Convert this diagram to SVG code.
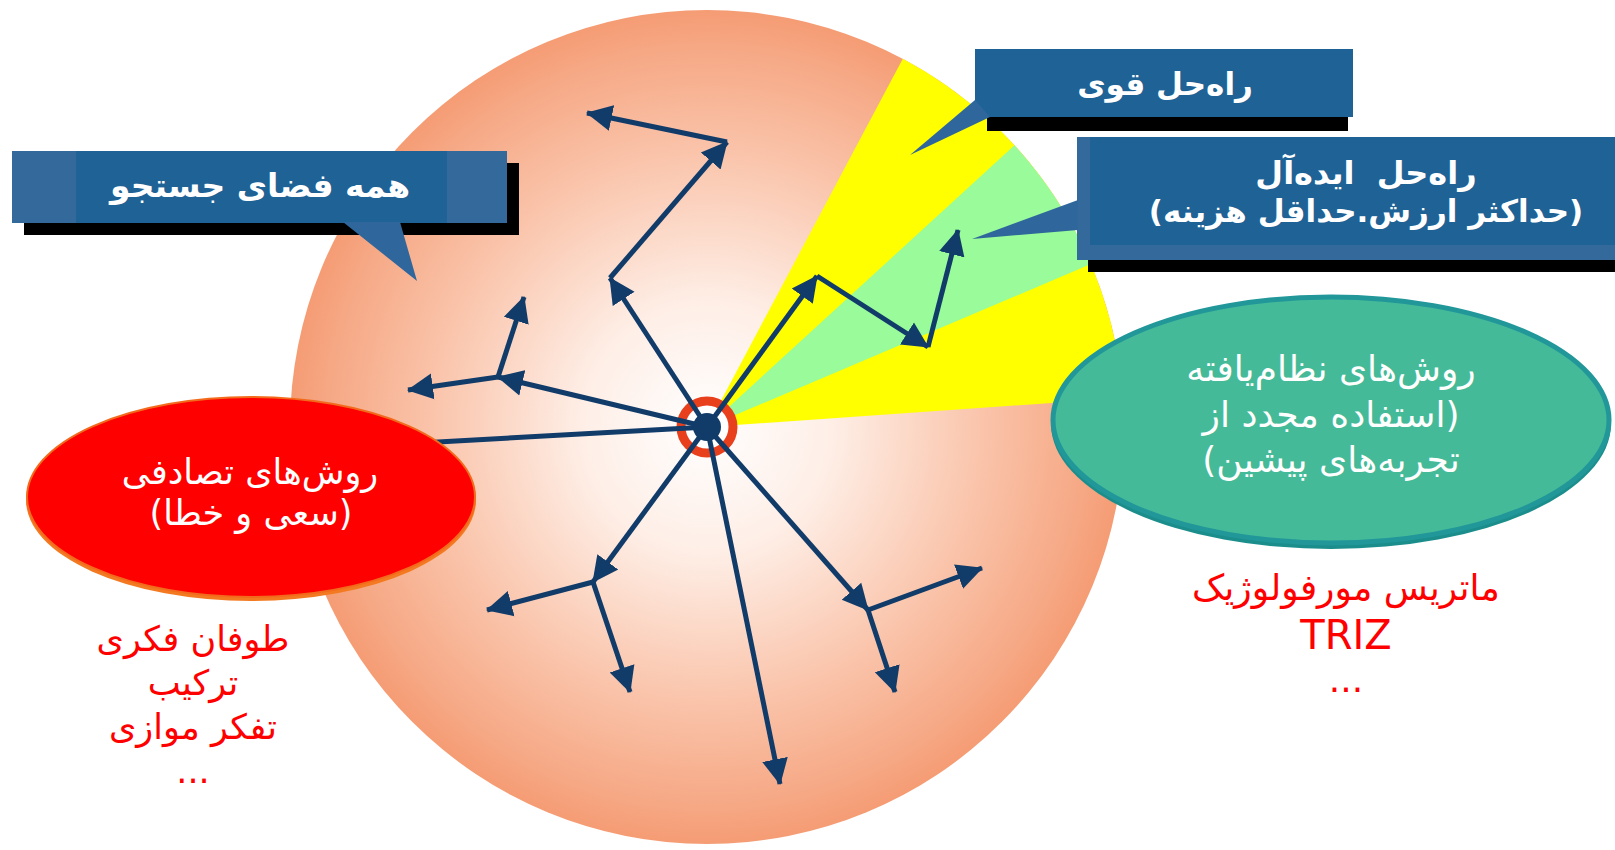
<svg xmlns="http://www.w3.org/2000/svg" width="1615" height="850" viewBox="0 0 1615 850">
  <defs>
    <radialGradient id="bgGrad" cx="707" cy="427" r="417" gradientUnits="userSpaceOnUse">
      <stop offset="0" stop-color="#FFFFFF"/>
      <stop offset="0.3" stop-color="#FEEEE6"/>
      <stop offset="0.65" stop-color="#FAC5AC"/>
      <stop offset="0.9" stop-color="#F6A986"/>
      <stop offset="1" stop-color="#F59C74"/>
    </radialGradient>
    <marker id="ah" markerUnits="userSpaceOnUse" markerWidth="26" markerHeight="28" refX="25" refY="14" orient="auto" viewBox="0 0 26 28">
      <path d="M0,1 L26,14 L0,27 Z" fill="#113B69"/>
    </marker>
    <style>
      .arr { stroke: #113B69; stroke-width: 5; fill: none; marker-end: url(#ah); }
      .ln { stroke: #113B69; stroke-width: 5; fill: none; }
      .box { fill: #1F6296; }
      .boxlite { fill: #34699C; }
      .shadow { fill: #000000; }
      .tail { fill: #2F679C; }
      .wt { font-family: "DejaVu Sans", sans-serif; fill: #FFFFFF; text-anchor: middle; }
      .bt { font-family: "DejaVu Sans", sans-serif; fill: #FFFFFF; text-anchor: middle; font-weight: bold; }
      .rt { font-family: "DejaVu Sans", sans-serif; fill: #FF0000; text-anchor: middle; }
    </style>
  </defs>

  <rect width="1615" height="850" fill="#FFFFFF"/>

  <g id="search-space">
    <circle cx="707" cy="427" r="417" fill="url(#bgGrad)"/>
    <path d="M707,427 L902.8,58.8 A417,417 0 0 1 1123,397.9 Z" fill="#FFFF00"/>
    <path d="M707,427 L1014.5,145.3 A417,417 0 0 1 1090.9,264.1 Z" fill="#99FB99"/>
  </g>

  <g id="start-point-ring">
    <circle cx="707" cy="427" r="26" fill="#FFFFFF" stroke="#E8401C" stroke-width="9"/>
  </g>

  <g id="connectors">
    <line class="arr" x1="707" y1="427" x2="610" y2="278"/>
    <line class="arr" x1="610" y1="278" x2="727" y2="142"/>
    <line class="arr" x1="727" y1="142" x2="587" y2="113"/>
    <line class="arr" x1="707" y1="427" x2="817" y2="276"/>
    <line class="arr" x1="817" y1="276" x2="928" y2="347"/>
    <line class="arr" x1="928" y1="347" x2="958" y2="230"/>
    <line class="arr" x1="707" y1="427" x2="498" y2="377"/>
    <line class="arr" x1="498" y1="377" x2="408" y2="390"/>
    <line class="arr" x1="498" y1="377" x2="524" y2="297"/>
    <line class="ln" x1="707" y1="427" x2="420" y2="443"/>
    <line class="arr" x1="707" y1="427" x2="593" y2="582"/>
    <line class="arr" x1="593" y1="582" x2="487" y2="610"/>
    <line class="arr" x1="593" y1="582" x2="630" y2="692"/>
    <line class="arr" x1="707" y1="427" x2="780" y2="784"/>
    <line class="arr" x1="707" y1="427" x2="868" y2="610"/>
    <line class="arr" x1="868" y1="610" x2="982" y2="568"/>
    <line class="arr" x1="868" y1="610" x2="895" y2="692"/>
  </g>

  <g id="start-point">
    <circle cx="707" cy="427" r="14" fill="#113B69"/>
  </g>

  <g id="callout-search-space">
    <rect class="shadow" x="24" y="163" width="495" height="72"/>
    <rect class="boxlite" x="12" y="151" width="495" height="72"/>
    <rect class="box" x="76" y="151" width="371" height="72"/>
    <polygon class="tail" points="343,222 400,222 417,281"/>
    <text class="bt" x="260" y="197" font-size="33" direction="rtl">همه فضای جستجو</text>
  </g>

  <g id="callout-strong-solution">
    <rect class="shadow" x="987" y="62" width="361" height="69"/>
    <rect class="box" x="975" y="49" width="378" height="68"/>
    <polygon class="tail" points="910,155 975,100 990,117"/>
    <text class="bt" x="1165" y="95" font-size="31" direction="rtl">راه‌حل قوی</text>
  </g>

  <g id="callout-ideal-solution">
    <rect class="shadow" x="1088" y="150" width="527" height="122"/>
    <rect class="boxlite" x="1077" y="137" width="538" height="123"/>
    <rect class="box" x="1090" y="137" width="525" height="108"/>
    <polygon class="tail" points="972,239 1078,200 1078,230"/>
    <text class="bt" x="1366" y="184" font-size="32" direction="rtl" xml:space="preserve">راه‌حل  ایده‌آل</text>
    <text class="bt" x="1366" y="222" font-size="31" direction="rtl">(حداکثر ارزش.حداقل هزینه)</text>
  </g>

  <g id="random-methods">
    <ellipse cx="251" cy="500" rx="225" ry="101" fill="#F47A22"/>
    <ellipse cx="251" cy="497" rx="224" ry="100" fill="#FF0000" stroke="#F26B1D" stroke-width="2"/>
    <text class="wt" x="250" y="484" font-size="35" direction="rtl">روش‌های تصادفی</text>
    <text class="wt" x="251" y="525" font-size="35" direction="rtl">(سعی و خطا)</text>
  </g>

  <g id="systematic-methods">
    <ellipse cx="1331" cy="424" rx="280" ry="125" fill="#1B8E8C"/>
    <ellipse cx="1331" cy="420" rx="278" ry="123" fill="#45BA98" stroke="#21979A" stroke-width="5"/>
    <text class="wt" x="1331" y="381" font-size="36" direction="rtl">روش‌های نظام‌یافته</text>
    <text class="wt" x="1331" y="427" font-size="36" direction="rtl">(استفاده مجدد از</text>
    <text class="wt" x="1331" y="472" font-size="36" direction="rtl">تجربه‌های پیشین)</text>
  </g>

  <g id="random-examples">
    <text class="rt" x="193" y="651" font-size="35" direction="rtl">طوفان فکری</text>
    <text class="rt" x="193" y="695" font-size="35" direction="rtl">ترکیب</text>
    <text class="rt" x="193" y="739" font-size="35" direction="rtl">تفکر موازی</text>
    <text class="rt" x="193" y="783" font-size="35">...</text>
  </g>

  <g id="systematic-examples">
    <text class="rt" x="1346" y="600" font-size="36" direction="rtl">ماتریس مورفولوژیک</text>
    <text class="rt" x="1346" y="649" font-size="40">TRIZ</text>
    <text class="rt" x="1346" y="692" font-size="36">...</text>
  </g>
</svg>
